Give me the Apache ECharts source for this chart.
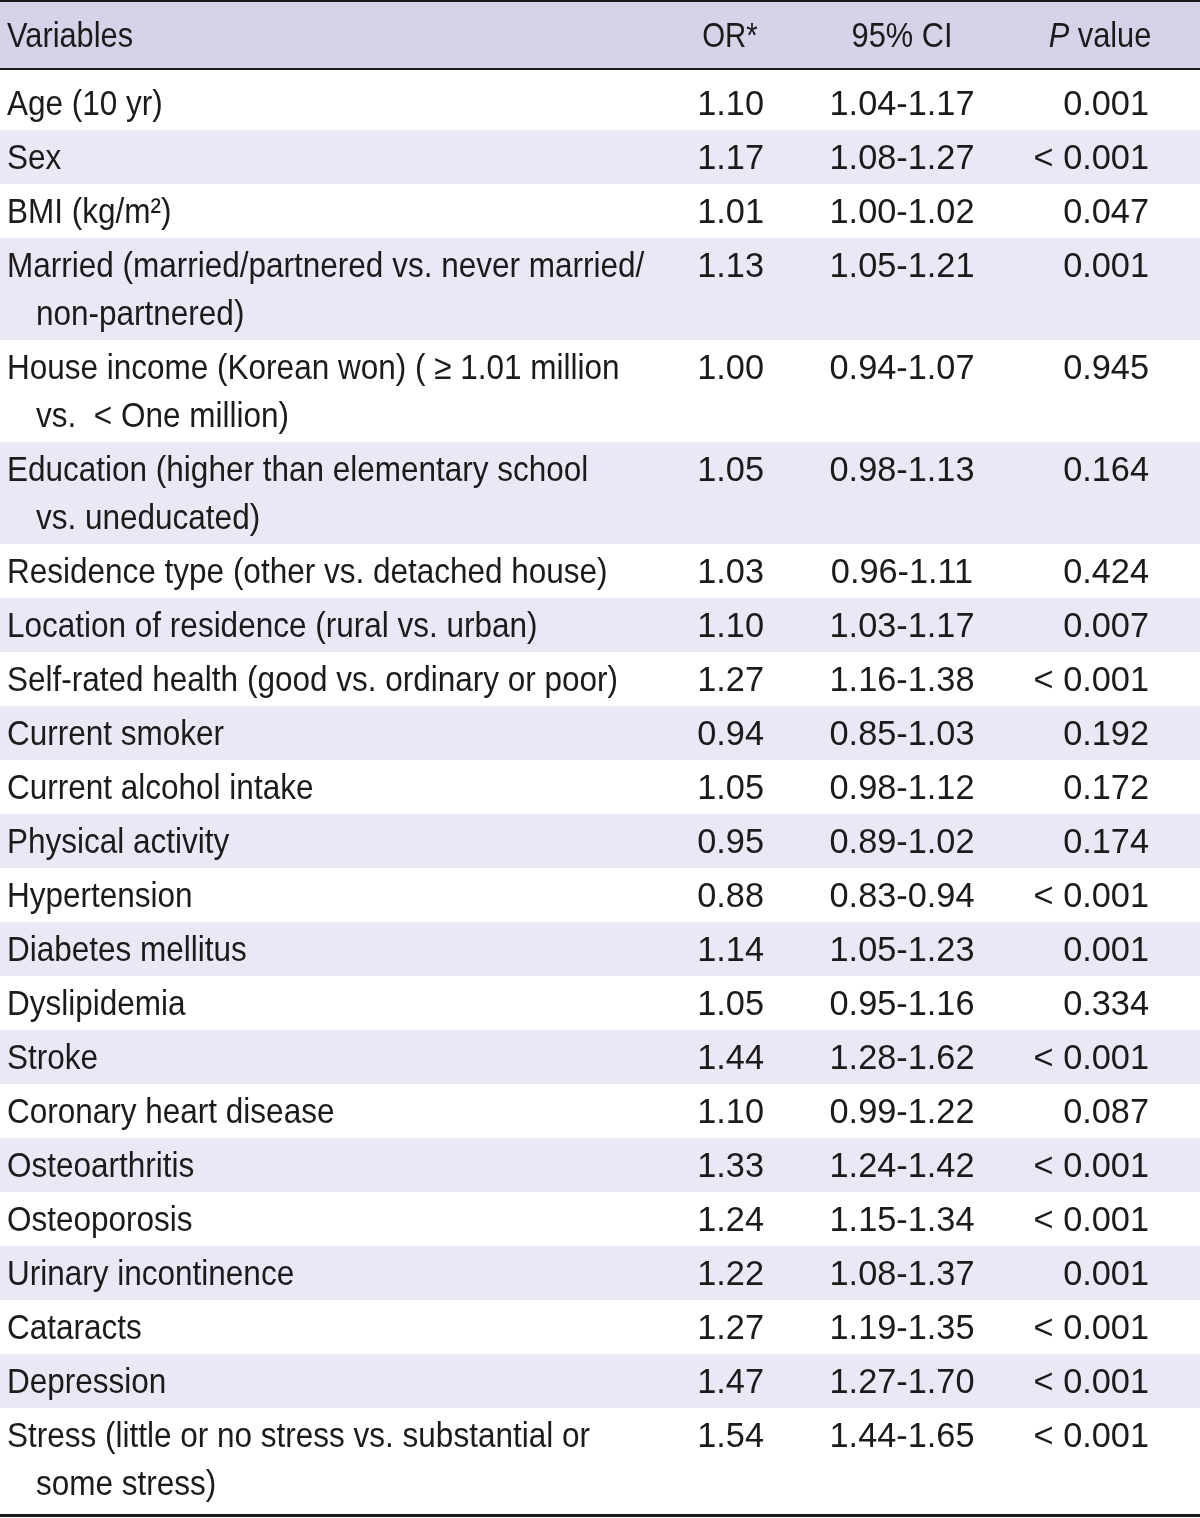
<!DOCTYPE html>
<html><head><meta charset="utf-8">
<script src="https://cdn.jsdelivr.net/npm/echarts@6/dist/echarts.min.js"></script>
<style>html,body{margin:0;padding:0;background:#fff}#c{width:1200px;height:1518px}</style>
</head><body><div id="c"></div>
<script>
// ---- data ----
const headers = ['Variables', 'OR*', '95% CI', 'P value'];
const variables = [
  'Age (10 yr)',
  'Sex',
  'BMI (kg/m²)',
  'Married (married/partnered vs. never married/\nnon-partnered)',
  'House income (Korean won) ( ≥ 1.01 million\nvs.  < One million)',
  'Education (higher than elementary school\nvs. uneducated)',
  'Residence type (other vs. detached house)',
  'Location of residence (rural vs. urban)',
  'Self-rated health (good vs. ordinary or poor)',
  'Current smoker',
  'Current alcohol intake',
  'Physical activity',
  'Hypertension',
  'Diabetes mellitus',
  'Dyslipidemia',
  'Stroke',
  'Coronary heart disease',
  'Osteoarthritis',
  'Osteoporosis',
  'Urinary incontinence',
  'Cataracts',
  'Depression',
  'Stress (little or no stress vs. substantial or\nsome stress)'
];
const oddsRatio = [1.10,1.17,1.01,1.13,1.00,1.05,1.03,1.10,1.27,0.94,1.05,0.95,0.88,1.14,1.05,1.44,1.10,1.33,1.24,1.22,1.27,1.47,1.54];
const ciLower   = [1.04,1.08,1.00,1.05,0.94,0.98,0.96,1.03,1.16,0.85,0.98,0.89,0.83,1.05,0.95,1.28,0.99,1.24,1.15,1.08,1.19,1.27,1.44];
const ciUpper   = [1.17,1.27,1.02,1.21,1.07,1.13,1.11,1.17,1.38,1.03,1.12,1.02,0.94,1.23,1.16,1.62,1.22,1.42,1.34,1.37,1.35,1.70,1.65];
const pValues   = ['0.001','< 0.001','0.047','0.001','0.945','0.164','0.424','0.007','< 0.001','0.192','0.172','0.174','< 0.001','0.001','0.334','< 0.001','0.087','< 0.001','< 0.001','0.001','< 0.001','< 0.001','< 0.001'];

// ---- layout / style ----
const W = 1200, H = 1518;
const FONT_FAMILY = '"Liberation Sans", Arial, sans-serif';
const FONT_SIZE = 35;
const FONT = FONT_SIZE + 'px ' + FONT_FAMILY;
const TEXT_SCALE = 0.9, NUM_SCALE = 0.98;
const INK = '#1e1a1b';
const HEAD_BG = '#d4d3e8';
const SHADE_BG = '#e9e8f4';
const HEAD_TOP = 2, HEAD_BOTTOM = 68, RULE = 2;
const BASE_H = 54, LINE_H = 48, FIRST_PAD = 6, LAST_PAD = 4, TEXT_OFF = 29;
const COL = { varX: 7, indentX: 36, orRight: 764, ciCenter: 902, pRight: 1149 };
const HEAD_X = [7, 730, 902, 1100];

// compute row bands
const rows = [];
let y = HEAD_BOTTOM + RULE;
variables.forEach((v, i) => {
  const n = v.split('\n').length;
  const pad = i === 0 ? FIRST_PAD : 0;
  const extra = i === variables.length - 1 ? LAST_PAD : 0;
  const h = BASE_H + LINE_H * (n - 1) + pad + extra;
  rows.push({ top: y, bottom: y + h, textY: y + pad + TEXT_OFF, lines: v.split('\n') });
  y += h;
});
const tableBottom = y;

function txt(api, x, yy, text, align, sx, extra) {
  const p = api.coord([x, yy]);
  return {
    type: 'text', x: p[0], y: p[1], scaleX: sx, scaleY: 1,
    style: Object.assign({ text: text, font: FONT, fill: INK, align: align, verticalAlign: 'middle' }, extra || {})
  };
}
function band(api, y0, y1, fill) {
  const a = api.coord([0, y0]), b = api.coord([W, y1]);
  return { type: 'rect', shape: { x: a[0], y: a[1], width: b[0] - a[0], height: b[1] - a[1] }, style: { fill: fill } };
}

function renderBody(params, api) {
  const i = api.value(0);
  const r = rows[i];
  const ch = [];
  if (i % 2 === 1) ch.push(band(api, r.top, r.bottom, SHADE_BG));
  r.lines.forEach((ln, k) => {
    ch.push(txt(api, k === 0 ? COL.varX : COL.indentX, r.textY + k * LINE_H, ln, 'left', TEXT_SCALE));
  });
  ch.push(txt(api, COL.orRight, r.textY, oddsRatio[i].toFixed(2), 'right', NUM_SCALE));
  ch.push(txt(api, COL.ciCenter, r.textY, ciLower[i].toFixed(2) + '-' + ciUpper[i].toFixed(2), 'center', NUM_SCALE));
  ch.push(txt(api, COL.pRight, r.textY, pValues[i], 'right', NUM_SCALE));
  return { type: 'group', children: ch };
}

function renderHeader(params, api) {
  const ch = [];
  ch.push(band(api, HEAD_TOP, HEAD_BOTTOM, HEAD_BG));
  ch.push(band(api, 0, HEAD_TOP, INK));
  ch.push(band(api, HEAD_BOTTOM, HEAD_BOTTOM + RULE, INK));
  ch.push(band(api, tableBottom, tableBottom + 3, INK));
  const hy = (HEAD_TOP + HEAD_BOTTOM) / 2 + 2;
  ch.push(txt(api, HEAD_X[0], hy, headers[0], 'left', 0.88));
  ch.push(txt(api, HEAD_X[1], hy, headers[1], 'center', 0.84));
  ch.push(txt(api, HEAD_X[2], hy, headers[2], 'center', 0.88));
  const pParts = headers[3].split(' ');
  ch.push(txt(api, HEAD_X[3], hy, '{i|' + pParts[0] + '} ' + pParts.slice(1).join(' '), 'center', 0.88, {
    rich: { i: { fontStyle: 'italic', fontSize: FONT_SIZE, fontFamily: FONT_FAMILY, fill: INK } }
  }));
  return { type: 'group', children: ch };
}

const chart = echarts.init(document.getElementById('c'), null, { renderer: 'canvas' });
chart.setOption({
  animation: false,
  backgroundColor: '#ffffff',
  grid: { left: 0, right: 0, top: 0, bottom: 0 },
  xAxis: { type: 'value', min: 0, max: W, show: false },
  yAxis: { type: 'value', min: 0, max: H, inverse: true, show: false },
  series: [
    { type: 'custom', renderItem: renderBody, data: variables.map((v, i) => [i]), silent: true, z: 1 },
    { type: 'custom', renderItem: renderHeader, data: [[0]], silent: true, z: 2 }
  ]
});
</script>
</body></html>
